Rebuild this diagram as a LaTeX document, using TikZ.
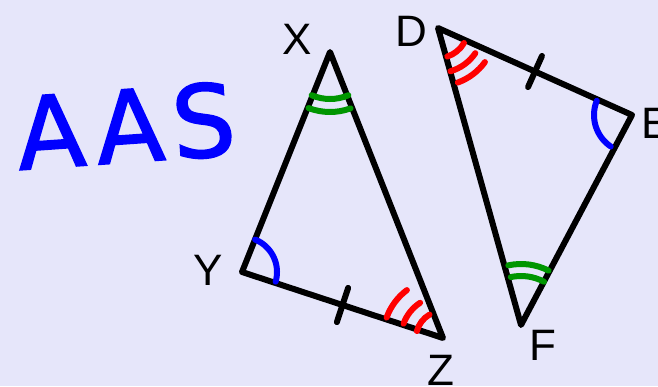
\documentclass[tikz,border=0pt]{standalone}
\usepackage{fontspec}
\setmainfont{Liberation Sans}
\newfontfamily\markerfont{DejaVu Sans}[LetterSpace=8, BoldFont={DejaVu Sans}, BoldFeatures={FakeBold=1.6}]
\usetikzlibrary{calc}
\definecolor{sheetbg}{RGB}{230,230,250}
\definecolor{markblue}{RGB}{0,0,255}
\definecolor{markred}{RGB}{255,0,0}
\definecolor{markgreen}{RGB}{0,150,0}

\begin{document}
\begin{tikzpicture}[
  x=1pt, y=1pt,
  side/.style={line width=6pt, line join=round, line cap=round},
  anglemark/.style={line width=6pt, line cap=round},
  vlabel/.style={font=\fontsize{44}{44}\selectfont, inner sep=0pt}
]
\fill[sheetbg] (0,0) rectangle (658,386);
\useasboundingbox (0,0) rectangle (658,386);
\coordinate (X) at (330,334);
\coordinate (Y) at (242,114);
\coordinate (Z) at (443,48);
\coordinate (D) at (438,358);
\coordinate (E) at (632,271);
\coordinate (F) at (521,61);
\draw[side] (X) -- (Y) -- (Z) -- cycle;
\draw[side] (D) -- (E) -- (F) -- cycle;
% equal sides
\draw[side] ($(Y)!0.5!(Z)!18pt!90:(Z)$) -- ($(Y)!0.5!(Z)!18pt!-90:(Z)$);
\draw[side] ($(D)!0.5!(E)!17pt!90:(E)$) -- ($(D)!0.5!(E)!17pt!-90:(E)$);
% angle marks
\draw[anglemark, markgreen] ($(X)+(-113:47pt)$) arc[start angle=-113, end angle=-67, radius=47pt];
\draw[anglemark, markgreen] ($(X)+(-111:60pt)$) arc[start angle=-111, end angle=-70, radius=60pt];
\draw[anglemark, markgreen] ($(F)+(102:61pt)$) arc[start angle=102, end angle=63, radius=61pt];
\draw[anglemark, markgreen] ($(F)+(102:49pt)$) arc[start angle=102, end angle=62, radius=49pt];
\draw[anglemark, markblue] ($(Y)+(68:35pt)$) arc[start angle=68, end angle=-16, radius=35pt];
\draw[anglemark, markblue] ($(E)+(158:38pt)$) arc[start angle=158, end angle=236, radius=38pt];
\draw[anglemark, markred] ($(Z)+(165:27pt)$) arc[start angle=165, end angle=120, radius=27pt];
\draw[anglemark, markred] ($(Z)+(160:42pt)$) arc[start angle=160, end angle=123, radius=42pt];
\draw[anglemark, markred] ($(Z)+(160:60pt)$) arc[start angle=160, end angle=127, radius=60pt];
\draw[anglemark, markred] ($(D)+(-72:30pt)$) arc[start angle=-72, end angle=-30, radius=30pt];
\draw[anglemark, markred] ($(D)+(-74:45pt)$) arc[start angle=-74, end angle=-34, radius=45pt];
\draw[anglemark, markred] ($(D)+(-70:58pt)$) arc[start angle=-70, end angle=-36, radius=58pt];
% vertex names
\node[vlabel] (labX) at (297,347) {X};
\node[vlabel] (labY) at (208,116) {Y};
\node[vlabel] (labZ) at (441,16) {Z};
\node[vlabel] (labD) at (411,355) {D};
\node[vlabel] (labE) at (656,263) {E};
\node[vlabel] (labF) at (543,41) {F};
\node[text=markblue, font={\markerfont\bfseries\fontsize{100}{100}\selectfont}, rotate=4, inner sep=0pt] (title) at (126,260) {AAS};
\end{tikzpicture}
\end{document}
